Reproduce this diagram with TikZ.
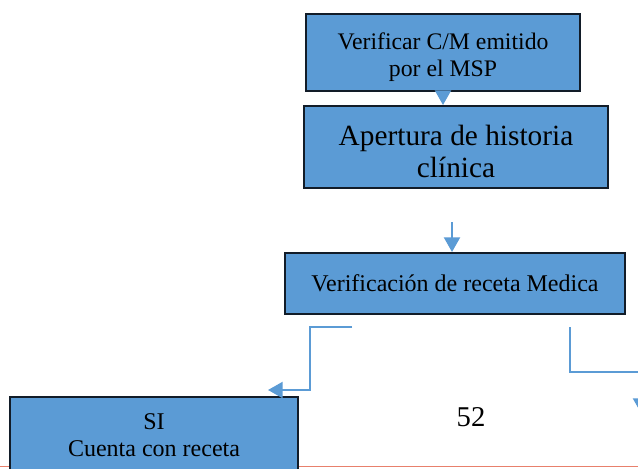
\documentclass[tikz,border=0pt]{standalone}
\usepackage{fontspec}
\setmainfont{Liberation Serif}
\usetikzlibrary{arrows.meta}
\definecolor{boxblue}{RGB}{91,155,213}
\definecolor{boxline}{RGB}{18,28,40}
\definecolor{pageline}{RGB}{232,128,108}

\begin{document}
\begin{tikzpicture}[x=0.75pt,y=-0.75pt,
        flowbox/.style={draw=boxline,line width=1.5pt,fill=boxblue,align=center,inner sep=0pt},
        flowarrow/.style={draw=boxblue,line width=1.6pt,-{Triangle[width=12pt,length=11pt]}}]
        % page area
        \clip (0,0) rectangle (638,468);
        \fill[white] (0,0) rectangle (638,468);
        \draw[pageline,line width=1.2pt] (0,466.5) -- (638,466.5);
        % boxes
        \node[flowbox,minimum width=205.5pt,minimum height=57.75pt,font=\fontsize{17.8}{20.3}\selectfont] (msp) at (443,52.5) {\rule{0pt}{20pt}Verificar C/M emitido\\por el MSP};
        \node[flowbox,minimum width=228pt,minimum height=61.5pt,font=\fontsize{22}{24}\selectfont] (historia) at (456,147) {\rule{0pt}{22.5pt}Apertura de historia\\clínica};
        \node[flowbox,minimum width=255pt,minimum height=45.75pt,font=\fontsize{18}{20}\selectfont] (receta) at (455,283.5) {Verificación de receta Medica};
        \node[flowbox,minimum width=216pt,minimum height=57pt,font=\fontsize{18}{20}\selectfont] (si) at (154,435) {SI\\Cuenta con receta};
        \node[font=\fontsize{21.5}{24}\selectfont] (pagenum) at (471,417) {52};
        % free ends of the connectors
        \coordinate (recfork) at (452,222);
        \coordinate (sifork) at (352,327);
        \coordinate (sitip) at (268,390);
        \coordinate (nofork) at (570,327);
        \coordinate (notip) at (641,413);
        % draw connectors
        \draw[flowarrow] (msp.south) -- (msp.south |- historia.north);
        \draw[flowarrow] (recfork) -- (recfork |- receta.north);
        \draw[flowarrow] (sifork) -- ++(-42,0) |- (sitip);
        \draw[flowarrow] (nofork) -- ++(0,45) -| (notip);
\end{tikzpicture}
\end{document}
